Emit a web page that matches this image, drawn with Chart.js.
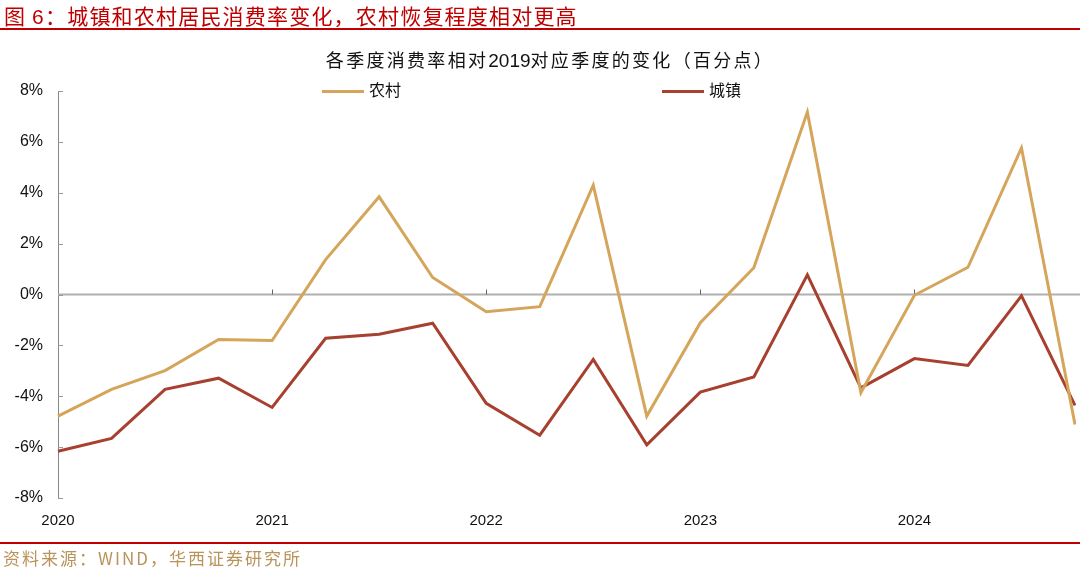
<!DOCTYPE html>
<html>
<head>
<meta charset="utf-8">
<script src="https://cdn.jsdelivr.net/npm/chart.js@4/dist/chart.umd.min.js"></script>
<style>
  body { margin: 0; width: 1080px; height: 570px; background: #fff; position: relative; overflow: hidden;
         font-family: "Liberation Sans", "Noto Sans CJK SC", sans-serif; }
  #head { position: absolute; left: 4px; top: 0px; font-size: 21px; letter-spacing: 1.2px; color: #c00000; font-family: "Noto Sans CJK SC", sans-serif; }
  #head .n { font-family: "Liberation Sans", sans-serif; }
  .rule { position: absolute; left: 0; width: 1080px; height: 2px; background: #c00000; }
  #foot { position: absolute; left: 3px; top: 545px; font-size: 17px; letter-spacing: 2px; color: #b8935a; font-family: "Noto Sans CJK SC", sans-serif; }
  #title { position: absolute; left: 0; width: 1100px; top: 46px; text-align: center; font-size: 18px; letter-spacing: 2.3px; color: #111; font-family: "Noto Sans CJK SC", sans-serif; }
  #title .n { font-family: "Liberation Sans", sans-serif; font-size: 19px; letter-spacing: 0; }
  .leg { position: absolute; top: 77px; font-size: 16px; color: #111; font-family: "Noto Sans CJK SC", sans-serif; }
  .leg i { display: inline-block; width: 42px; height: 3px; vertical-align: middle; margin-right: 5px; }
  #wrap { position: absolute; left: 0; top: 0; width: 1080px; height: 570px; }
</style>
</head>
<body>
<div id="wrap"><canvas id="chartId" width="1080" height="570"></canvas></div>
<div id="head">图 <span class="n">6</span>：城镇和农村居民消费率变化，农村恢复程度相对更高</div>
<div class="rule" style="top:28px"></div>
<div id="title">各季度消费率相对<span class="n">2019</span>对应季度的变化（百分点）</div>
<div class="leg" style="left:322px"><i style="background:#d4a55a"></i>农村</div>
<div class="leg" style="left:662px"><i style="background:#a8402f"></i>城镇</div>
<div class="rule" style="top:542px"></div>
<div id="foot">资料来源：WIND，华西证券研究所</div>
<script>
var quarters = ['2020Q1','2020Q2','2020Q3','2020Q4','2021Q1','2021Q2','2021Q3','2021Q4',
	'2022Q1','2022Q2','2022Q3','2022Q4','2023Q1','2023Q2','2023Q3','2023Q4',
	'2024Q1','2024Q2','2024Q3','2024Q4'];
var rural = [-4.78, -3.73, -2.99, -1.77, -1.81, 1.37, 3.84, 0.67, -0.68, -0.48,
	4.30, -4.78, -1.11, 1.05, 7.17, -3.86, -0.03, 1.07, 5.76, -5.11];
var urban = [-6.16, -5.66, -3.73, -3.29, -4.44, -1.72, -1.56, -1.13, -4.28, -5.53,
	-2.55, -5.91, -3.84, -3.24, 0.77, -3.67, -2.52, -2.79, -0.05, -4.36];
var yTicks = [-8, -6, -4, -2, 0, 2, 4, 6, 8];

// small tick marks on the y axis and the year marks on the zero line
var axisMarks = {
	id: 'axisMarks',
	beforeDatasetsDraw: function (chart) {
		var ctx = chart.ctx, x = chart.scales.x, y = chart.scales.y;
		var y0 = y.getPixelForValue(0);
		ctx.save();
		ctx.strokeStyle = '#b0b0b0';
		ctx.lineWidth = 2;
		ctx.beginPath();
		ctx.moveTo(chart.chartArea.left, y0);
		ctx.lineTo(1080, y0);
		ctx.stroke();
		ctx.strokeStyle = '#999';
		ctx.lineWidth = 1;
		yTicks.forEach(function (v) {
			var py = Math.round(y.getPixelForValue(v)) + 0.5;
			ctx.beginPath();
			ctx.moveTo(chart.chartArea.left, py);
			ctx.lineTo(chart.chartArea.left + 5, py);
			ctx.stroke();
		});
		ctx.strokeStyle = '#666';
		quarters.forEach(function (q, i) {
			if (i % 4 === 0 && i > 0) {
				var px = Math.round(x.getPixelForValue(i)) + 0.5;
				ctx.beginPath();
				ctx.moveTo(px, y0 - 5);
				ctx.lineTo(px, y0);
				ctx.stroke();
			}
		});
		ctx.restore();
	}
};

Chart.defaults.font.family = '"Liberation Sans", "Noto Sans CJK SC", sans-serif';
Chart.defaults.color = '#111';

var chrt = document.getElementById('chartId').getContext('2d');
var chartId = new Chart(chrt, {
	type: 'line',
	data: {
		labels: quarters,
		datasets: [{
			label: '农村',
			data: rural,
			borderColor: '#d4a55a',
			borderWidth: 3,
			pointRadius: 0,
			tension: 0
		}, {
			label: '城镇',
			data: urban,
			borderColor: '#a8402f',
			borderWidth: 3,
			pointRadius: 0,
			tension: 0
		}]
	},
	options: {
		responsive: false,
		animation: false,
		layout: { padding: { top: 91, right: 5, bottom: 40, left: 0 } },
		plugins: {
			legend: { display: false },
			tooltip: { enabled: false }
		},
		scales: {
			x: {
				offset: false,
				grid: { display: false, drawTicks: false },
				border: { display: false },
				ticks: {
					autoSkip: false,
					maxRotation: 0,
					padding: 14,
					font: { size: 15 },
					color: '#111',
					callback: function (v, i) { return i % 4 === 0 ? quarters[i].slice(0, 4) : ''; }
				},
				afterFit: function (s) { s.height = 32; s.paddingRight = 0; s.paddingLeft = 0; }
			},
			y: {
				min: -8,
				max: 8,
				grid: { display: false, drawTicks: false },
				border: { display: true, color: '#888', width: 1 },
				ticks: {
					stepSize: 2,
					padding: 15,
					font: { size: 16 },
					color: '#111',
					callback: function (v) { return v + '%'; }
				},
				afterFit: function (s) { s.width = 58; }
			}
		}
	},
	plugins: [axisMarks]
});
</script>
</body>
</html>
